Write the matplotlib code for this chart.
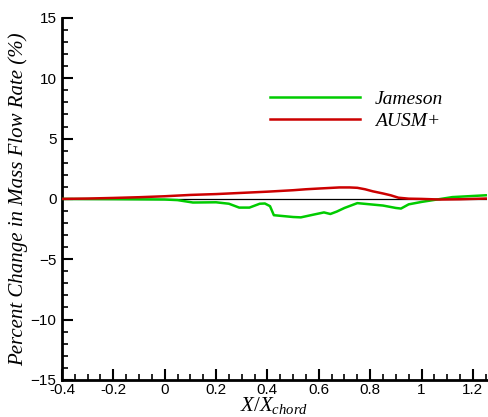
import numpy as np
import matplotlib
matplotlib.use("Agg")
import matplotlib.pyplot as plt
from matplotlib.ticker import MultipleLocator

plt.rcParams['mathtext.fontset'] = 'custom'
plt.rcParams['mathtext.it'] = 'Liberation Serif:italic'
plt.rcParams['mathtext.rm'] = 'Liberation Serif'

# mass flow rate change along the chord
x_jameson = [-0.4, -0.2, 0.0, 0.05, 0.11, 0.2, 0.25, 0.29, 0.33, 0.37, 0.39, 0.41,
             0.425, 0.45, 0.5, 0.53, 0.58, 0.62, 0.645, 0.67, 0.7, 0.75, 0.8,
             0.85, 0.9, 0.92, 0.95, 1.0, 1.06, 1.12, 1.18, 1.25]
y_jameson = [0.0, -0.02, -0.05, -0.1, -0.3, -0.28, -0.4, -0.72, -0.72, -0.4, -0.38, -0.6,
             -1.35, -1.4, -1.5, -1.53, -1.3, -1.12, -1.25, -1.05, -0.75, -0.35, -0.45,
             -0.55, -0.75, -0.8, -0.45, -0.25, -0.05, 0.15, 0.22, 0.3]

x_ausm = [-0.4, -0.3, -0.2, -0.1, 0.0, 0.1, 0.2, 0.3, 0.4, 0.5, 0.55, 0.6, 0.68,
          0.72, 0.75, 0.78, 0.81, 0.85, 0.88, 0.91, 0.95, 1.0, 1.07, 1.15, 1.25]
y_ausm = [0.0, 0.03, 0.08, 0.14, 0.22, 0.33, 0.4, 0.5, 0.6, 0.72, 0.8, 0.86, 0.95,
          0.95, 0.92, 0.8, 0.63, 0.45, 0.3, 0.1, 0.02, 0.0, -0.05, -0.03, 0.03]

xticks = [-0.4, -0.2, 0, 0.2, 0.4, 0.6, 0.8, 1, 1.2]
xticklabels = ['-0.4', '-0.2', '0', '0.2', '0.4', '0.6', '0.8', '1', '1.2']

fig = plt.figure(figsize=(4.88, 4.17), dpi=100)
ax = fig.add_axes([0.127, 0.089, 0.871, 0.868])

ax.axhline(0, color='black', lw=0.9, zorder=1)
ax.plot(x_jameson, y_jameson, color='#00cc00', lw=1.8, label='Jameson', zorder=3)
ax.plot(x_ausm, y_ausm, color='#cc0000', lw=1.8, label='AUSM+', zorder=3)

ax.set_xlim(-0.4, 1.255)
ax.set_ylim(-15, 15)

for s in ['top', 'right']:
    ax.spines[s].set_visible(False)
for s in ['left', 'bottom']:
    ax.spines[s].set_linewidth(2)

ax.xaxis.set_minor_locator(MultipleLocator(0.05))
ax.yaxis.set_major_locator(MultipleLocator(5))
ax.yaxis.set_minor_locator(MultipleLocator(1))
ax.tick_params(which='major', direction='in', length=8, width=1.5, labelsize=11)
ax.tick_params(which='minor', direction='in', length=4, width=1.2)
ax.tick_params(axis='x', which='major', pad=2)
ax.tick_params(axis='y', which='major', pad=4)
ax.set_xticks(xticks)
ax.set_xticklabels(xticklabels)
for lab in ax.get_xticklabels() + ax.get_yticklabels():
    lab.set_family('Liberation Sans')

ax.set_ylabel('Percent Change in Mass Flow Rate (%)', family='Liberation Serif',
              style='italic', size=15, labelpad=2)
ax.set_xlabel(r'$X/X_{chord}$', size=15, labelpad=-1)

ax.legend(loc='upper left', bbox_to_anchor=(0.489, 0.799), frameon=False,
          handlelength=4.65, handletextpad=0.75, labelspacing=0.2, borderpad=0,
          borderaxespad=0,
          prop={'family': 'Liberation Serif', 'style': 'italic', 'size': 14})

fig.savefig('out.png', dpi=100)
